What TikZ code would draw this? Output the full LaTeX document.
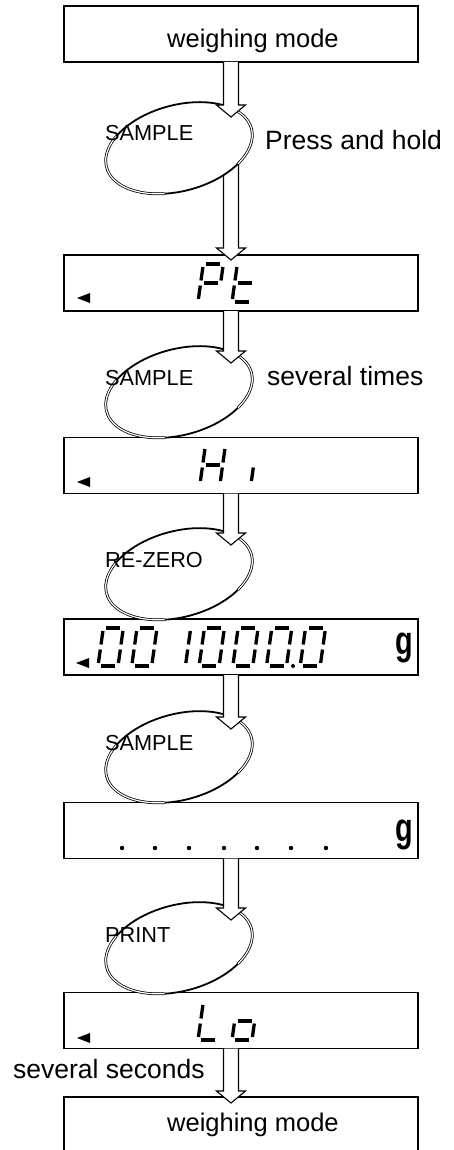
\documentclass[tikz,border=0pt]{standalone}
\usepackage{fontspec}
\setmainfont{Liberation Sans}
\usetikzlibrary{shapes.geometric,calc}

\tikzset{
  dispbox/.style={draw, line width=1.2pt, minimum width=354pt, minimum height=56pt, inner sep=0pt, outer sep=0pt},
  keyshape/.style={ellipse, draw, fill=white, line width=1.8pt, minimum width=150pt, minimum height=86pt, inner sep=0pt, outer sep=0pt, rotate=15},
  keydbl/.style={line width=0.75pt, double=white, double distance=1.2pt},
  fatarr/.style={draw, fill=white, line width=1.1pt, line join=miter},
  lbl/.style={font=\fontsize{26.5}{30}\selectfont, inner sep=0pt, anchor=base west},
  modelbl/.style={font=\fontsize{25.5}{30}\selectfont, inner sep=0pt, anchor=base west},
  keylbl/.style={font=\fontsize{21.7}{24}\selectfont, inner sep=0pt, anchor=base west},
  unitlbl/.style={font=\bfseries\fontsize{40}{42}\selectfont, inner sep=0pt, anchor=base, xscale=0.72},
  segline/.style={line width=3.3pt},
}

% seven-segment pieces, local units (w=20, h=38)
\newcommand{\sgA}{\draw[segline] (3,38)--(17,38);}
\newcommand{\sgB}{\draw[segline] (20,35)--(20,21.5);}
\newcommand{\sgC}{\draw[segline] (20,16.5)--(20,3);}
\newcommand{\sgD}{\draw[segline] (3,0)--(17,0);}
\newcommand{\sgE}{\draw[segline] (0,3)--(0,16.5);}
\newcommand{\sgF}{\draw[segline] (0,21.5)--(0,35);}
\newcommand{\sgG}{\draw[segline] (3,19)--(17,19);}
\newcommand{\lcdchar}[3]{\begin{scope}[shift={(#1,#2)},x=1pt,y=1pt,xslant=0.14]#3\end{scope}}
\newcommand{\lcdzero}{\sgA\sgB\sgC\sgD\sgE\sgF}

% hollow arrow from start coordinate #1 to tip coordinate #2
\newcommand{\fatarrow}[2]{\draw[fatarr] ([xshift=-7.5pt]#1) -- ([xshift=-7.5pt,yshift=12pt]#2) -- ([xshift=-14.5pt,yshift=12pt]#2) -- (#2) -- ([xshift=14.5pt,yshift=12pt]#2) -- ([xshift=7.5pt,yshift=12pt]#2) -- ([xshift=7.5pt]#1);}

% double outline parts of a key
\newcommand{\keydouble}[1]{\begin{scope}[shift={(#1.center)},rotate=15,x=1pt,y=1pt]
  \draw[keydbl] (140:75 and 43) arc[start angle=140, end angle=250, x radius=75, y radius=43];
  \draw[keydbl] (-45:75 and 43) arc[start angle=-45, end angle=30, x radius=75, y radius=43];
\end{scope}}

\begin{document}
\begin{tikzpicture}[x=1pt,y=-1pt]
\useasboundingbox (0,0) rectangle (453,1150);

% display boxes
\node[dispbox] (b1) at (241,34) {};
\node[dispbox] (b2) at (241,283) {};
\node[dispbox] (b3) at (241,465.5) {};
\node[dispbox] (b4) at (241,647) {};
\node[dispbox] (b5) at (241,830.5) {};
\node[dispbox] (b6) at (241,1020.5) {};
\node[minimum width=354pt, minimum height=56pt, inner sep=0pt, outer sep=0pt] (b7) at (241,1125) {};
\draw[line width=1.2pt] (b7.south west) -- (b7.north west) -- (b7.north east) -- (b7.south east);

% key centres and arrow tips
\coordinate (k1c) at (179,148);
\coordinate (k2c) at (179,392);
\coordinate (k3c) at (179,574);
\coordinate (k4c) at (179,757);
\coordinate (k5c) at (179,948);
\coordinate (t1) at (231,117);
\coordinate (t2) at (231,260);
\coordinate (t3) at (231,363);
\coordinate (t4) at (231,545);
\coordinate (t5) at (231,729);
\coordinate (t6) at (231,920);
\coordinate (t7) at (231,1103);
\coordinate (s1) at (t1 |- b1.south);
\coordinate (s2) at (t2 |- k1c);
\coordinate (s3) at (t3 |- b2.south);
\coordinate (s4) at (t4 |- b3.south);
\coordinate (s5) at (t5 |- b4.south);
\coordinate (s6) at (t6 |- b5.south);
\coordinate (s7) at (t7 |- b6.south);

% arrow from first key to Pt display (behind the key)
\fatarrow{s2}{t2}

% keys
\node[keyshape] (k1) at (k1c) {};
\node[keyshape] (k2) at (k2c) {};
\node[keyshape] (k3) at (k3c) {};
\node[keyshape] (k4) at (k4c) {};
\node[keyshape] (k5) at (k5c) {};
\keydouble{k1}
\keydouble{k2}
\keydouble{k3}
\keydouble{k4}
\keydouble{k5}

% arrows
\fatarrow{s1}{t1}
\fatarrow{s3}{t3}
\fatarrow{s4}{t4}
\fatarrow{s5}{t5}
\fatarrow{s6}{t6}
\fatarrow{s7}{t7}

% texts
\node[modelbl] (m1) at (167,48) {weighing mode};
\node[modelbl] (m7) at (167,1131) {weighing mode};
\node[lbl] (n1) at (265,150) {Press and hold};
\node[lbl] (n2) at (267,385) {several times};
\node[lbl] (n3) at (13,1078) {several seconds};
\node[keylbl] (l1) at (105,141) {SAMPLE};
\node[keylbl] (l2) at (105,385) {SAMPLE};
\node[keylbl] (l3) at (105,567) {RE-ZERO};
\node[keylbl] (l4) at (105,750) {SAMPLE};
\node[keylbl] (l5) at (105,942) {PRINT};
\node[unitlbl] (g4) at (404,654) {g};
\node[unitlbl] (g5) at (404,841) {g};

% stability triangles
\fill (77,298) -- (90,293) -- (90,303) -- cycle;
\fill (77,482) -- (90,477) -- (90,487) -- cycle;
\fill (76,663) -- (89,658) -- (89,668) -- cycle;
\fill (77,1038) -- (90,1033) -- (90,1043) -- cycle;

% Pt
\lcdchar{198}{302}{\sgA\sgB\sgE\sgF\sgG}
\lcdchar{232}{302}{\sgD\sgE\sgF\sgG}
% Hi
\lcdchar{200}{484}{\sgB\sgC\sgE\sgF\sgG}
\lcdchar{231}{484}{\sgC}
% 001000.0
\lcdchar{98}{666}{\lcdzero}
\lcdchar{131.7}{666}{\lcdzero}
\lcdchar{165.4}{666}{\sgB\sgC}
\lcdchar{199.1}{666}{\lcdzero}
\lcdchar{232.8}{666}{\lcdzero}
\lcdchar{266.5}{666}{\lcdzero}
\lcdchar{300.2}{666}{\lcdzero}
\fill (293,666) circle (2pt);
% dots
\foreach \dx in {122,155,189,224,257,291,326} { \fill (\dx,848) circle (2.2pt); }
% Lo
\lcdchar{198}{1040}{\sgD\sgE\sgF}
\lcdchar{232}{1040}{\sgC\sgD\sgE\sgG}
\end{tikzpicture}
\end{document}
